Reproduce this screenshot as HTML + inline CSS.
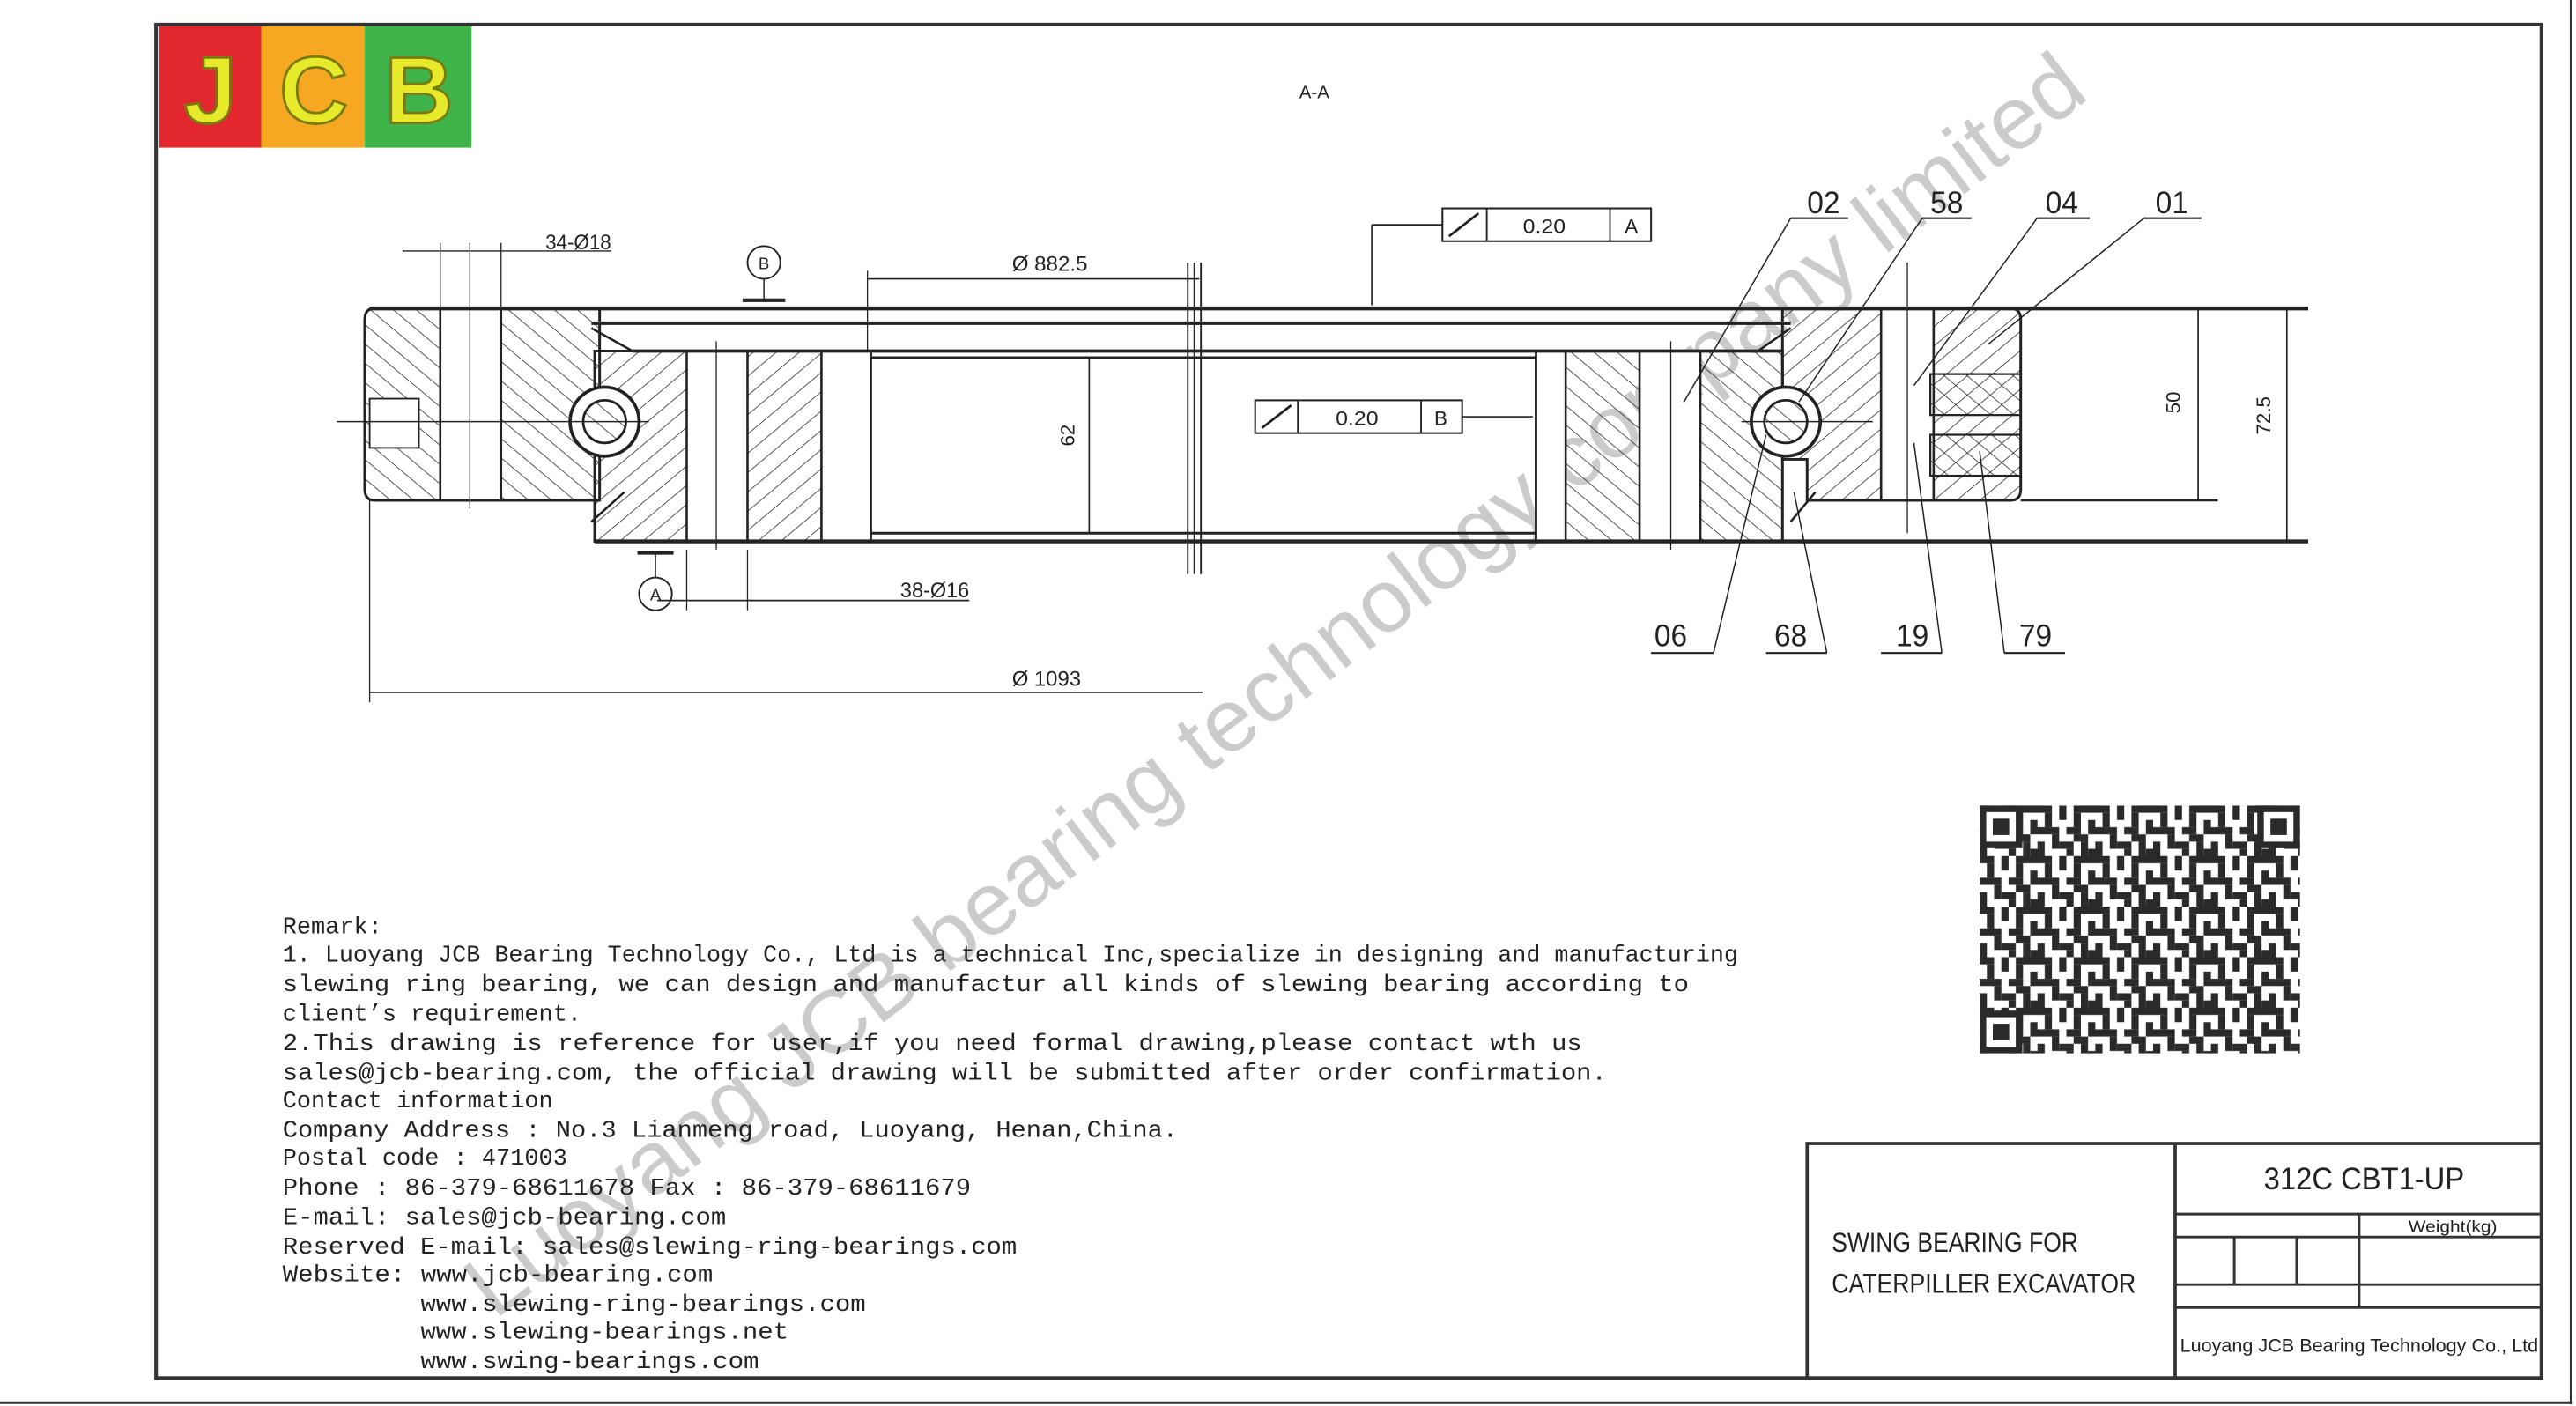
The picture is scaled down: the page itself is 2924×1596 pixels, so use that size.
<!DOCTYPE html>
<html><head><meta charset="utf-8"><style>
html,body{margin:0;padding:0;background:#fff}
svg{display:block}
.t{font-family:"Liberation Mono",monospace;font-size:14.45px;fill:#222}
.n{font-family:"Liberation Sans",sans-serif;fill:#222}
</style></head><body>
<svg width="2924" height="1596" viewBox="0 0 1568 857" preserveAspectRatio="none" xmlns="http://www.w3.org/2000/svg">
<defs>
<pattern id="h" width="9" height="9" patternUnits="userSpaceOnUse" patternTransform="rotate(-50)"><line x1="0" y1="0" x2="0" y2="9" stroke="#333" stroke-width="0.9"/></pattern>
<pattern id="h2" width="9" height="9" patternUnits="userSpaceOnUse" patternTransform="rotate(50)"><line x1="0" y1="0" x2="0" y2="9" stroke="#333" stroke-width="0.9"/></pattern>
<pattern id="q" width="35.2" height="30.8" patternUnits="userSpaceOnUse" x="1205" y="491">
<rect width="35.2" height="30.8" fill="#fff"/>
<g fill="#2a2a2a">
<rect x="0" y="0" width="8.8" height="4.4"/><rect x="13.2" y="0" width="4.4" height="8.8"/><rect x="22" y="0" width="13.2" height="4.4"/>
<rect x="4.4" y="4.4" width="4.4" height="8.8"/><rect x="22" y="4.4" width="4.4" height="8.8"/><rect x="30.8" y="8.8" width="4.4" height="8.8"/>
<rect x="0" y="13.2" width="13.2" height="4.4"/><rect x="17.6" y="13.2" width="8.8" height="4.4"/>
<rect x="8.8" y="17.6" width="4.4" height="8.8"/><rect x="22" y="17.6" width="8.8" height="4.4"/>
<rect x="0" y="22" width="4.4" height="8.8"/><rect x="13.2" y="22" width="8.8" height="4.4"/><rect x="26.4" y="22" width="4.4" height="8.8"/>
<rect x="17.6" y="26.4" width="4.4" height="4.4"/><rect x="30.8" y="26.4" width="4.4" height="4.4"/>
</g></pattern>
</defs>
<rect width="1568" height="857" fill="#fff"/>
<!-- watermark -->
<text x="787" y="432" text-anchor="middle" font-family="Liberation Sans,sans-serif" font-size="54" fill="#a8a8a8" fill-opacity="0.6" transform="rotate(-37.5 787 432)" textLength="1225" lengthAdjust="spacingAndGlyphs">Luoyang JCB bearing technology company limited</text>
<!-- frames -->
<rect x="95" y="15" width="1452" height="825" fill="none" stroke="#333" stroke-width="2.2"/>
<line x1="0" y1="855" x2="1566" y2="855" stroke="#333" stroke-width="1.6"/>
<line x1="1565" y1="0" x2="1565" y2="856" stroke="#333" stroke-width="1.6"/>
<!-- logo -->
<rect x="97" y="16" width="62" height="74" fill="#e2272f"/>
<rect x="159" y="16" width="63" height="74" fill="#f7a823"/>
<rect x="222" y="16" width="65" height="74" fill="#3fb44a"/>
<g font-family="Liberation Sans,sans-serif" font-weight="bold" font-size="58" fill="#e6ea2a" stroke="#7a7a10" stroke-width="1.5" text-anchor="middle">
<text x="128" y="75">J</text><text x="191" y="75">C</text><text x="255" y="75">B</text></g>
<text x="800" y="60" class="n" font-size="11" text-anchor="middle">A-A</text>
<!-- drawing -->
<g stroke="#222" fill="none">
<path d="M228,188 H365 V305 H228 Q222,305 222,298 V195 Q222,188 228,188Z" fill="url(#h)" stroke-width="1.6"/>
<rect x="268" y="188" width="37" height="117" fill="#fff" stroke-width="1.4"/>
<rect x="225" y="243" width="30" height="30" fill="#fff" stroke-width="1"/>
<path d="M362,214 H530 V330 H362Z" fill="url(#h2)" stroke-width="1.6"/>
<rect x="418" y="214" width="37" height="116" fill="#fff" stroke-width="1.4"/>
<rect x="500" y="214" width="30" height="116" fill="#fff" stroke-width="1.4"/>
<circle cx="368" cy="257" r="21" fill="#fff" stroke-width="2"/>
<circle cx="368" cy="257" r="13" fill="url(#h)" stroke-width="1.5"/>
<rect x="935" y="214" width="150" height="116" fill="url(#h)" stroke-width="1.6"/>
<rect x="935" y="214" width="18" height="116" fill="#fff" stroke-width="1.4"/>
<rect x="998" y="214" width="37" height="116" fill="#fff" stroke-width="1.4"/>
<path d="M1085,188 H1224 Q1230,188 1230,195 V298 Q1230,305 1224,305 H1100 V280 H1085Z" fill="url(#h2)" stroke-width="1.6"/>
<rect x="1145" y="188" width="32" height="117" fill="#fff" stroke-width="1.4"/>
<rect x="1175" y="228" width="55" height="25" fill="url(#h)" stroke-width="1.2"/>
<rect x="1175" y="265" width="55" height="25" fill="url(#h)" stroke-width="1.2"/>
<circle cx="1087" cy="257" r="21" fill="#fff" stroke-width="2"/>
<circle cx="1087" cy="257" r="13" fill="url(#h)" stroke-width="1.5"/>
<line x1="225" y1="188" x2="1405" y2="188" stroke-width="2.4"/>
<line x1="360" y1="197" x2="1090" y2="197" stroke-width="2.2"/>
<line x1="385" y1="214" x2="1085" y2="214" stroke-width="2"/>
<line x1="530" y1="218" x2="935" y2="218" stroke-width="1.6"/>
<line x1="530" y1="325" x2="935" y2="325" stroke-width="1.6"/>
<line x1="362" y1="330" x2="1405" y2="330" stroke-width="2.4"/>
<line x1="1230" y1="305" x2="1350" y2="305" stroke-width="1.4"/>
<line x1="360" y1="200" x2="385" y2="214" stroke-width="1.4"/>
<line x1="360" y1="318" x2="380" y2="300" stroke-width="1.4"/>
<line x1="1090" y1="200" x2="1070" y2="214" stroke-width="1.4"/>
<line x1="1090" y1="318" x2="1105" y2="300" stroke-width="1.4"/>
<line x1="723" y1="160" x2="723" y2="350" stroke-width="1"/>
<line x1="727" y1="160" x2="727" y2="350" stroke-width="1"/>
<line x1="731" y1="160" x2="731" y2="350" stroke-width="1"/>
<line x1="205" y1="257" x2="395" y2="257" stroke-width="0.8"/>
<line x1="1060" y1="257" x2="1140" y2="257" stroke-width="0.8"/>
<line x1="286" y1="148" x2="286" y2="310" stroke-width="0.7"/>
<line x1="436" y1="208" x2="436" y2="335" stroke-width="0.7"/>
<line x1="1017" y1="208" x2="1017" y2="335" stroke-width="0.7"/>
<line x1="1161" y1="160" x2="1161" y2="325" stroke-width="0.7"/>
<line x1="245" y1="153" x2="372" y2="153" stroke-width="0.8"/>
<line x1="268" y1="148" x2="268" y2="188" stroke-width="0.7"/>
<line x1="305" y1="148" x2="305" y2="188" stroke-width="0.7"/>
<line x1="528" y1="170" x2="730" y2="170" stroke-width="0.9"/>
<line x1="528" y1="165" x2="528" y2="214" stroke-width="0.7"/>
<line x1="663" y1="218" x2="663" y2="325" stroke-width="0.9"/>
<line x1="225" y1="422" x2="732" y2="422" stroke-width="0.9"/>
<line x1="225" y1="305" x2="225" y2="428" stroke-width="0.7"/>
<line x1="400" y1="366" x2="590" y2="366" stroke-width="0.9"/>
<line x1="418" y1="335" x2="418" y2="372" stroke-width="0.7"/>
<line x1="455" y1="335" x2="455" y2="372" stroke-width="0.7"/>
<line x1="1338" y1="188" x2="1338" y2="305" stroke-width="0.9"/>
<line x1="1392" y1="188" x2="1392" y2="330" stroke-width="0.9"/>
<line x1="835" y1="137" x2="835" y2="186" stroke-width="0.9"/>
<line x1="835" y1="137" x2="878" y2="137" stroke-width="0.9"/>
<line x1="890" y1="254" x2="933" y2="254" stroke-width="0.9"/>
<line x1="1090" y1="133" x2="1125" y2="133" stroke-width="1.1"/><line x1="1090" y1="133" x2="1025" y2="245" stroke-width="0.8"/>
<line x1="1170" y1="133" x2="1200" y2="133" stroke-width="1.1"/><line x1="1170" y1="133" x2="1095" y2="245" stroke-width="0.8"/>
<line x1="1240" y1="133" x2="1272" y2="133" stroke-width="1.1"/><line x1="1240" y1="133" x2="1165" y2="235" stroke-width="0.8"/>
<line x1="1305" y1="133" x2="1340" y2="133" stroke-width="1.1"/><line x1="1305" y1="133" x2="1210" y2="210" stroke-width="0.8"/>
<line x1="1005" y1="398" x2="1043" y2="398" stroke-width="1.1"/><line x1="1043" y1="398" x2="1075" y2="265" stroke-width="0.8"/>
<line x1="1075" y1="398" x2="1112" y2="398" stroke-width="1.1"/><line x1="1112" y1="398" x2="1092" y2="300" stroke-width="0.8"/>
<line x1="1145" y1="398" x2="1182" y2="398" stroke-width="1.1"/><line x1="1182" y1="398" x2="1165" y2="270" stroke-width="0.8"/>
<line x1="1220" y1="398" x2="1257" y2="398" stroke-width="1.1"/><line x1="1220" y1="398" x2="1205" y2="275" stroke-width="0.8"/>
<circle cx="465" cy="160" r="10" stroke-width="1"/><line x1="465" y1="170" x2="465" y2="183" stroke-width="0.8"/><line x1="452" y1="183" x2="478" y2="183" stroke-width="2.2"/>
<circle cx="399" cy="362" r="10" stroke-width="1"/><line x1="399" y1="337" x2="399" y2="352" stroke-width="0.8"/><line x1="388" y1="337" x2="410" y2="337" stroke-width="2.2"/>
<rect x="878" y="127" width="127" height="20" stroke-width="1.1"/><line x1="905" y1="127" x2="905" y2="147"/><line x1="980" y1="127" x2="980" y2="147"/>
<line x1="882" y1="144" x2="900" y2="130" stroke-width="1.5"/>
<rect x="764" y="244" width="126" height="20" stroke-width="1.1"/><line x1="790" y1="244" x2="790" y2="264"/><line x1="865" y1="244" x2="865" y2="264"/>
<line x1="768" y1="261" x2="786" y2="247" stroke-width="1.5"/>
</g>
<g class="n" font-size="13">
<text x="332" y="152" textLength="40" lengthAdjust="spacingAndGlyphs">34-Ø18</text>
<text x="465" y="164" font-size="10" text-anchor="middle">B</text>
<text x="399" y="366" font-size="10" text-anchor="middle">A</text>
<text x="616" y="165" textLength="46" lengthAdjust="spacingAndGlyphs">Ø 882.5</text>
<text x="548" y="364" textLength="42" lengthAdjust="spacingAndGlyphs">38-Ø16</text>
<text x="616" y="418" textLength="42" lengthAdjust="spacingAndGlyphs">Ø 1093</text>
<text x="927" y="142" font-size="12" textLength="26" lengthAdjust="spacingAndGlyphs">0.20</text><text x="989" y="142" font-size="12">A</text>
<text x="813" y="259" font-size="12" textLength="26" lengthAdjust="spacingAndGlyphs">0.20</text><text x="873" y="259" font-size="12">B</text>
<text x="654" y="272" font-size="12" transform="rotate(-90 654 272)">62</text>
<text x="1327" y="252" font-size="12" transform="rotate(-90 1327 252)">50</text>
<text x="1382" y="265" font-size="12" transform="rotate(-90 1382 265)">72.5</text>
<g font-size="19">
<text x="1100" y="130" textLength="20" lengthAdjust="spacingAndGlyphs">02</text><text x="1175" y="130" textLength="20" lengthAdjust="spacingAndGlyphs">58</text>
<text x="1245" y="130" textLength="20" lengthAdjust="spacingAndGlyphs">04</text><text x="1312" y="130" textLength="20" lengthAdjust="spacingAndGlyphs">01</text>
<text x="1007" y="394" textLength="20" lengthAdjust="spacingAndGlyphs">06</text><text x="1080" y="394" textLength="20" lengthAdjust="spacingAndGlyphs">68</text>
<text x="1154" y="394" textLength="20" lengthAdjust="spacingAndGlyphs">19</text><text x="1229" y="394" textLength="20" lengthAdjust="spacingAndGlyphs">79</text>
</g>
</g>
<!-- QR -->
<rect x="1205" y="491" width="195" height="151" fill="url(#q)"/>
<g fill="#2a2a2a"><rect x="1205" y="491" width="26" height="26"/><rect x="1374" y="491" width="26" height="26"/><rect x="1205" y="616" width="26" height="26"/></g>
<g fill="#fff"><rect x="1209" y="495" width="18" height="18"/><rect x="1378" y="495" width="18" height="18"/><rect x="1209" y="620" width="18" height="18"/></g>
<g fill="#2a2a2a"><rect x="1213" y="499" width="10" height="10"/><rect x="1382" y="499" width="10" height="10"/><rect x="1213" y="624" width="10" height="10"/></g>
<!-- remark -->
<g class="t">
<text x="172" y="569">Remark:</text>
<text x="172" y="586" textLength="886" lengthAdjust="spacingAndGlyphs">1. Luoyang JCB Bearing Technology Co., Ltd is a technical Inc,specialize in designing and manufacturing</text>
<text x="172" y="604" textLength="856" lengthAdjust="spacingAndGlyphs">slewing ring bearing, we can design and manufactur all kinds of slewing bearing according to</text>
<text x="172" y="622">client’s requirement.</text>
<text x="172" y="640" textLength="791" lengthAdjust="spacingAndGlyphs">2.This drawing is reference for user,if you need formal drawing,please contact wth us</text>
<text x="172" y="658" textLength="806" lengthAdjust="spacingAndGlyphs">sales@jcb-bearing.com, the official drawing will be submitted after order confirmation.</text>
<text x="172" y="675">Contact information</text>
<text x="172" y="693" textLength="545" lengthAdjust="spacingAndGlyphs">Company Address : No.3 Lianmeng road, Luoyang, Henan,China.</text>
<text x="172" y="710">Postal code : 471003</text>
<text x="172" y="728" textLength="419" lengthAdjust="spacingAndGlyphs">Phone : 86-379-68611678 Fax : 86-379-68611679</text>
<text x="172" y="746" textLength="270" lengthAdjust="spacingAndGlyphs">E-mail: sales@jcb-bearing.com</text>
<text x="172" y="764" textLength="447" lengthAdjust="spacingAndGlyphs">Reserved E-mail: sales@slewing-ring-bearings.com</text>
<text x="172" y="781" textLength="262" lengthAdjust="spacingAndGlyphs">Website: www.jcb-bearing.com</text>
<text x="256" y="799" textLength="271" lengthAdjust="spacingAndGlyphs">www.slewing-ring-bearings.com</text>
<text x="256" y="816" textLength="224" lengthAdjust="spacingAndGlyphs">www.slewing-bearings.net</text>
<text x="256" y="834" textLength="206" lengthAdjust="spacingAndGlyphs">www.swing-bearings.com</text>
</g>
<!-- title block -->
<g stroke="#333" fill="none" stroke-width="2">
<rect x="1100" y="697" width="447" height="143"/>
<line x1="1324" y1="697" x2="1324" y2="840"/>
<line x1="1324" y1="740" x2="1547" y2="740" stroke-width="1.6"/>
<line x1="1324" y1="754" x2="1547" y2="754" stroke-width="1.6"/>
<line x1="1324" y1="783" x2="1547" y2="783" stroke-width="1.6"/>
<line x1="1324" y1="797" x2="1547" y2="797" stroke-width="1.6"/>
<line x1="1436" y1="740" x2="1436" y2="797" stroke-width="1.6"/>
<line x1="1360" y1="754" x2="1360" y2="783" stroke-width="1.6"/>
<line x1="1398" y1="754" x2="1398" y2="783" stroke-width="1.6"/>
</g>
<g class="n">
<text x="1378" y="725" font-size="19" textLength="122" lengthAdjust="spacingAndGlyphs">312C CBT1-UP</text>
<text x="1466" y="751" font-size="10" textLength="54" lengthAdjust="spacingAndGlyphs">Weight(kg)</text>
<text x="1115" y="763" font-size="17" textLength="150" lengthAdjust="spacingAndGlyphs">SWING BEARING FOR</text>
<text x="1115" y="788" font-size="17" textLength="185" lengthAdjust="spacingAndGlyphs">CATERPILLER EXCAVATOR</text>
<text x="1327" y="824" font-size="11.5" textLength="218" lengthAdjust="spacingAndGlyphs">Luoyang JCB Bearing Technology Co., Ltd</text>
</g>
</svg>
</body></html>
